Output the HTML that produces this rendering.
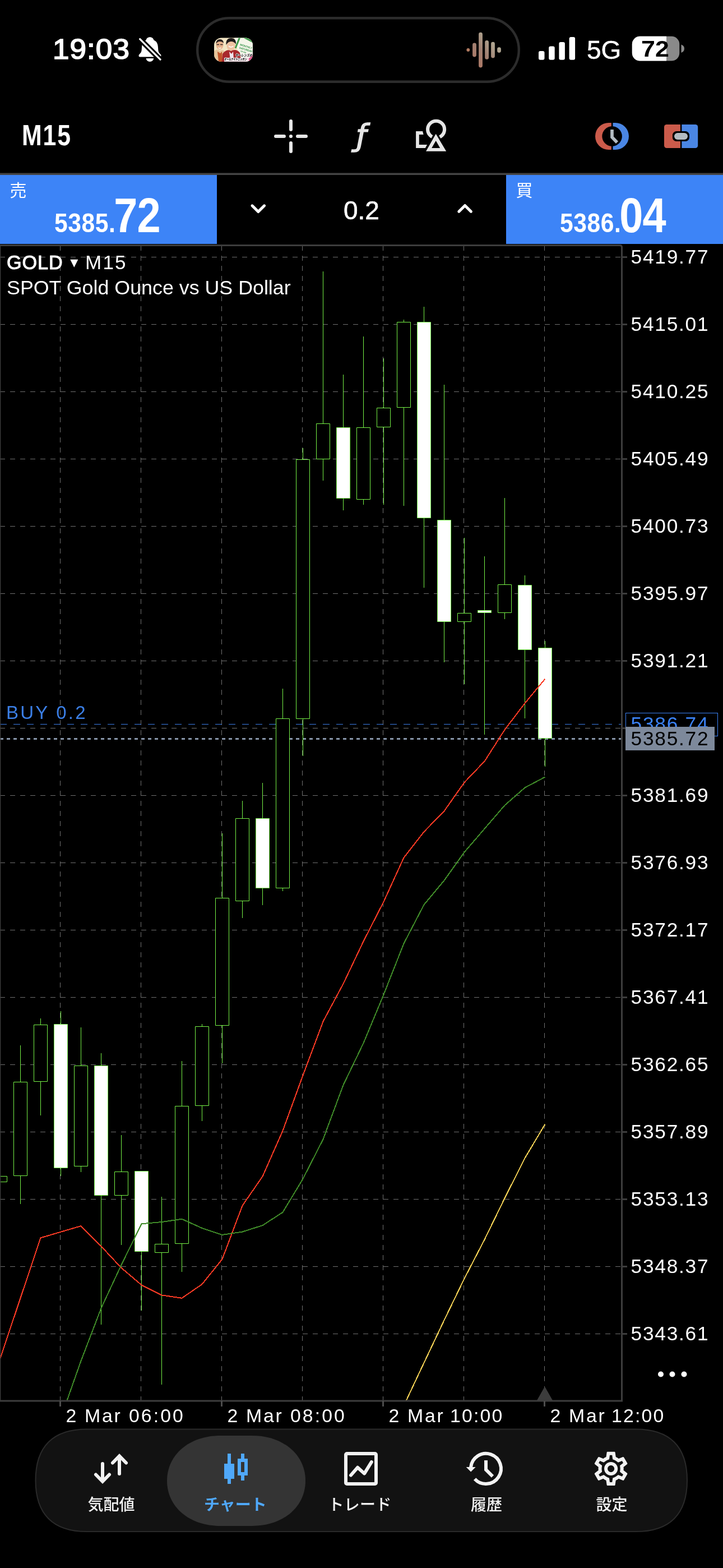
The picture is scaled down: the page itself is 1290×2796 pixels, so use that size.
<!DOCTYPE html>
<html lang="ja"><head><meta charset="utf-8"><title>GOLD M15</title>
<style>
html,body{margin:0;padding:0;background:#000}
body{width:1290px;height:2796px;position:relative;overflow:hidden;font-family:"Liberation Sans","Noto Sans CJK JP",sans-serif;color:#fff}
.t{position:absolute;white-space:nowrap;line-height:40px;margin:0}
svg{position:absolute;left:0;top:0;display:block}
.chart{z-index:1}
.t,.bx{z-index:2}
.pl{left:1125.5px;font-size:35.3px;letter-spacing:1.75px}
.tl{top:2504.3px;font-size:33.8px;letter-spacing:3.1px}
.tl .dm{letter-spacing:2.7px}
.tl .h1{margin-left:-3px;letter-spacing:2.2px}
#ct1{left:12px;top:448px;font-size:35px}
#ct1 b{font-weight:normal;font-size:34.2px;-webkit-text-stroke:1px #fff;letter-spacing:.9px}
#ct1 .tri{font-family:'DejaVu Sans','Noto Sans CJK JP',sans-serif;font-size:28px;margin:0 3px;position:relative;top:-3px}
#ct1c{letter-spacing:2.2px}
#ct2{left:12px;top:493px;font-size:35.8px}
#buyl{left:11px;top:1250.5px;font-size:33px;letter-spacing:3.2px;color:#3b7fe6}
.bx{position:absolute;box-sizing:border-box}
#bxbuy{left:1116px;top:1271px;width:165px;height:42px;border:1.5px solid #3b82f6}
#pbuy{top:1271px;color:#3b82f6}
#bxbid{left:1116px;top:1296px;width:159px;height:42px;background:#7d899b;z-index:5}
#pbid{top:1297px;color:#000;z-index:6}
.ui{z-index:3}
.t{z-index:4}
#time{left:94px;top:68px;font-size:50.5px;font-weight:normal;-webkit-text-stroke:1.7px #fff;letter-spacing:1px;transform:scaleX(1.05);transform-origin:0 0}
#net{left:1047px;top:69.3px;font-size:46px;-webkit-text-stroke:0.5px #fff}
#bat{left:1144px;top:66.5px;font-size:40px;font-weight:bold;color:#000;transform:scaleX(1.12);transform-origin:0 0}
#tf{left:38.8px;top:221.5px;font-size:51px;font-weight:bold;letter-spacing:2.2px;transform:scaleX(.84);transform-origin:0 0}
#fx{left:635.5px;top:207px;font-size:53.3px;line-height:70px;font-family:'DejaVu Sans',sans-serif;font-style:italic;color:#e6e6e6;-webkit-text-stroke:1.6px #e6e6e6}
.cj{font-size:30px;font-weight:400}
#sl{left:17.5px;top:319.5px}
#bl{left:920.5px;top:319.5px}
.prc{top:342px;line-height:84px;transform:scaleX(.87);transform-origin:0 0}
.pr{font-size:49px;font-weight:bold;letter-spacing:.6px}
.pr2{font-size:87px;font-weight:bold;letter-spacing:-1px;margin-left:-3.6px}
#sp{left:96.5px}
#bp{left:999.3px}
#vol{left:613px;top:354.5px;font-size:46px;-webkit-text-stroke:.6px #fff}
.tb{top:2664px;font-size:28px;font-weight:500;color:#f2f2f2}
#tb1{left:156.5px}
#tb2{left:364px;color:#4fa8fa;font-weight:bold}
#tb3{left:585.5px;letter-spacing:0.3px}
#tb4{left:840px}
#tb5{left:1063.5px}

</style></head>
<body>
<svg class="ui" width="1290" height="440" viewBox="0 0 1290 440">
<defs>
<linearGradient id="wv" gradientUnits="userSpaceOnUse" x1="838" y1="112" x2="890" y2="66"><stop offset="0" stop-color="#b07662"/><stop offset="0.45" stop-color="#a28172"/><stop offset="1" stop-color="#b8bca4"/></linearGradient>
<clipPath id="thc"><rect x="382" y="67.5" width="69" height="42.5" rx="13"/></clipPath>
</defs>
<!-- dynamic island -->
<rect x="352.200" y="32.200" width="573.600" height="113.600" rx="56.800" fill="#000" stroke="#2c2c2c" stroke-width="4.400"/>
<g clip-path="url(#thc)">
<rect x="382" y="67" width="70" height="44" fill="#f3e6c4"/>
<path d="M418 67h34v44h-22z" fill="#f4f6ea"/>
<path d="M420 86l8-20h22M436 67l16 8M449 103l4-4" stroke="#3f9a4a" stroke-width="3" fill="none"/>
<ellipse cx="392" cy="80" rx="6.5" ry="8.5" fill="#e9b48e"/>
<path d="M385.500 78q0-8 7-8q6 0 6.500 7q-3-3.500-7-3q-4 0-6.500 4z" fill="#2a2220"/>
<path d="M382 91q6-5 10 0q5-4 9 1l3 19h-22z" fill="#e6c49a"/>
<path d="M388 92l5 3l3-3l1 18h-7z" fill="#c2552a"/>
<ellipse cx="412" cy="81" rx="7.500" ry="9.500" fill="#efc3a2"/>
<path d="M403.500 80q-1-12 9-12q9 0 8.500 11q-4-5.500-9-5q-5 0-8.500 6z" fill="#1d1918"/>
<path d="M397 96q8-10 15-5q9-5 16 3l3 16h-35z" fill="#a8282c"/>
<path d="M409 92l4 4l3-4l1 14h-6z" fill="#efe6ee"/>
<path d="M400 103h52v7h-52z" fill="#f6dfe6"/>
<g font-family="Liberation Sans,Noto Sans CJK JP,sans-serif" font-weight="900" fill="#1c1618" stroke="#fff" stroke-width="1.2" paint-order="stroke" font-style="italic">
<text x="420" y="101" font-size="6.4" textLength="30" lengthAdjust="spacingAndGlyphs">ヤーレンズの</text>
<text x="400" y="107.5" font-size="6.4" textLength="40" lengthAdjust="spacingAndGlyphs">オールナイトニッポン</text>
</g>
<path d="M386.500 79.500h4.500M393 79.500h4.500" stroke="#3a2c28" stroke-width="1.300"/>
<path d="M408 82q4 4 8.500 0" stroke="#fff" stroke-width="1.400" fill="none"/>
<path d="M389.500 85q2.500 2.500 5 0" stroke="#fff" stroke-width="1.200" fill="none"/>
<path d="M444 104l8-6v12h-8z" fill="#e0508a"/>
<text transform="translate(428 81) rotate(17)" font-family="Liberation Sans,sans-serif" font-weight="bold" font-size="4.600" fill="#2f8f45">MONTHLY</text>
<text transform="translate(426.500 86.500) rotate(17)" font-family="Liberation Sans,sans-serif" font-weight="bold" font-size="4.600" fill="#2f8f45">SATURDAY</text>
<text transform="translate(429 92) rotate(17)" font-family="Liberation Sans,sans-serif" font-weight="bold" font-size="3" fill="#2f8f45">ON AIR</text>
</g>
<!-- waveform -->
<g stroke="url(#wv)" stroke-width="6.8" stroke-linecap="round" fill="none">
<path d="M846.5 79.900V98.100M857.500 61.100V117M868.600 75.400V102.400M879.500 78.200V100M890.500 87.600V90.600"/>
</g>
<circle cx="835.300" cy="89" r="2.900" fill="#b47c62"/>
<!-- signal -->
<g fill="#fff">
<rect x="961" y="91" width="10.500" height="15.700" rx="3"/>
<rect x="979.200" y="82.600" width="10.500" height="24.100" rx="3"/>
<rect x="997.400" y="75" width="10.500" height="31.700" rx="3"/>
<rect x="1015.600" y="66" width="10.500" height="40.700" rx="3"/>
</g>
<!-- battery -->
<rect x="1127.800" y="64.800" width="84.500" height="43.700" rx="14" fill="#8a8a8a"/>
<path d="M1141.800 64.800H1189V108.500H1141.800a14 14 0 0 1-14-14V78.800a14 14 0 0 1 14-14z" fill="#fff"/>
<path d="M1215.500 79.500q5.500 2 5.500 7.200q0 5.200-5.500 7.200z" fill="#8a8a8a"/>
<!-- bell -->
<g>
<path d="M267.400 66.200c4 0 6.300 2.300 7 5.200c5.600 2 7.500 7.500 7.700 14.500c0.100 5.500 1 7.500 3.500 10c1.500 1.500 1.900 2.500 1.900 3.300c0 1.500-1.200 2.300-2.800 2.300H250.300c-1.600 0-2.800-0.800-2.800-2.300c0-0.800 0.400-1.800 1.900-3.300c2.500-2.500 3.400-4.500 3.500-10c0.200-7 2.100-12.500 7.700-14.500c0.700-2.900 3-5.200 6.800-5.200z" fill="#fff"/>
<path d="M260.600 103.900h13.600a6.800 6 0 0 1-13.600 0z" fill="#fff"/>
<path d="M249.500 69.500L286.200 106.400" stroke="#000" stroke-width="9.400" stroke-linecap="butt"/>
<path d="M244 64L249.500 69.500" stroke="#000" stroke-width="9.400"/>
<path d="M249.700 69.700L286 106.200" stroke="#fff" stroke-width="3.300" stroke-linecap="round"/>
</g>
<!-- toolbar icons -->
<g stroke="#e6e6e6" stroke-width="6" stroke-linecap="round" fill="none">
<path d="M519 216V231M519 255V270M492 243H507M531 243H546"/>
</g>
<circle cx="519" cy="243" r="3.100" fill="#e6e6e6"/>
<!-- shapes -->
<path d="M742.100 234H754.100L755.600 240H747.800V258H762.100L758.900 264H742.100z" fill="#e6e6e6"/>
<circle cx="778.100" cy="230.800" r="15" fill="none" stroke="#e6e6e6" stroke-width="6.100"/>
<path d="M777.700 238.800L796.200 269.700H760z" fill="#000" stroke="#000" stroke-width="6.500" stroke-linejoin="miter"/>
<path d="M777.700 238.800L796.200 269.700H760zM777.700 251L770.200 263.900H785.200z" fill="#e6e6e6" fill-rule="evenodd"/>
<!-- clock icon -->
<path d="M1090.900 219H1086A24 24 0 0 0 1086 267H1090.900z" fill="#cb5b4b"/>
<path d="M1093.300 219H1098A24 24 0 0 1 1098 267H1093.300z" fill="#4a86e4"/>
<circle cx="1092.100" cy="243" r="17.800" fill="#000"/>
<path d="M1090.900 219V267h2.400V219z" fill="#000"/>
<path d="M1092 231.100V244.600L1101 254" stroke="#b4bcc2" stroke-width="5.700" fill="none"/>
<!-- one-click icon -->
<path d="M1189.500 222H1213.900V264H1189.500a4.500 4.500 0 0 1-4.500-4.500V226.500a4.500 4.500 0 0 1 4.500-4.500z" fill="#cb5b4b"/>
<path d="M1216.400 222H1240.700a4.500 4.500 0 0 1 4.500 4.500V259.500a4.500 4.500 0 0 1-4.500 4.500H1216.400z" fill="#4a86e4"/>
<rect x="1199.900" y="234.100" width="30.100" height="18" rx="7" fill="#000"/>
<rect x="1203" y="237" width="24" height="12.100" rx="6.050" fill="#b4bcc2"/>
<!-- separators & panel -->
<rect x="0" y="308.500" width="1290" height="3.500" fill="#444"/>
<rect x="0" y="312" width="387" height="123" fill="#3d84f7"/>
<rect x="903" y="312" width="387" height="123" fill="#3d84f7"/>
<g stroke="#fff" stroke-width="5" stroke-linecap="round" stroke-linejoin="round" fill="none">
<path d="M450 366.800L460.800 377.600L471.600 366.800"/>
<path d="M818.800 377.200L829.600 366.400L840.400 377.200"/>
</g>
</svg>
<div class="t" id="time">19:03</div>
<div class="t" id="net">5G</div>
<div class="t" id="bat">72</div>
<div class="t" id="tf">M15</div>
<div class="t" id="fx">&#402;</div>
<div class="t cj" id="sl">売</div>
<div class="t prc" id="sp"><span class="pr m" id="sp1">5385.</span><span class="pr2 m" id="sp2">72</span></div>
<div class="t" id="vol">0.2</div>
<div class="t cj" id="bl">買</div>
<div class="t prc" id="bp"><span class="pr m" id="bp1">5386.</span><span class="pr2 m" id="bp2">04</span></div>

<svg class="chart" width="1290" height="2796" viewBox="0 0 1290 2796">
<g stroke="#707070" stroke-width="1" stroke-dasharray="9 9" fill="none">
<path d="M0 458.5H1108M0 578.5H1108M0 698.5H1108M0 818.5H1108M0 938.5H1108M0 1058.5H1108M0 1178.5H1108M0 1298.5H1108M0 1418.5H1108M0 1538.5H1108M0 1658.5H1108M0 1778.5H1108M0 1898.5H1108M0 2018.5H1108M0 2138.5H1108M0 2258.5H1108M0 2378.5H1108M107.5 438V2498M251.5 438V2498M395.5 438V2498M539.5 438V2498M683.5 438V2498M827.5 438V2498M971.5 438V2498"/></g>
<path d="M0 1291.5H1108" stroke="#3a7ce6" stroke-width="1" stroke-dasharray="12 12" fill="none"/>
<path d="M0 1317.5H1108" stroke="#8795a9" stroke-width="3" stroke-dasharray="6 6" fill="none"/>
<g stroke="#76f246" stroke-width="1">
<path d="M36.5 1864V2147M72.5 1816V1989M108.5 1803V2097M144.5 1832V2090M180.5 1878V2362M216.5 2024V2220M252.5 2088V2337M288.5 2134V2469M324.5 1892V2268M360.5 1826V1999M396.5 1486V1896M432.5 1428V1637M468.5 1396V1614M504.5 1228V1589M540.5 799V1348M576.5 484V857M612.5 668V910M648.5 600V900M684.5 639V900M720.5 570V902M756.5 547V1048M792.5 686V1181M828.5 959V1220M864.5 992V1310M900.5 888V1104M936.5 1026V1281M972.5 1143V1367" fill="none"/>
<path d="M-11.5 2097.5h24V2107.5h-24zM24.5 1929.5h24V2096.5h-24zM60.5 1827.5h24V1928.5h-24zM132.5 1900.5h24V2079.5h-24zM204.5 2089.5h24V2131.5h-24zM276.5 2218.5h24V2233.5h-24zM312.5 1972.5h24V2217.5h-24zM348.5 1830.5h24V1971.5h-24zM384.5 1601.5h24V1828.5h-24zM420.5 1459.5h24V1606.5h-24zM492.5 1281.5h24V1583.5h-24zM528.5 819.5h24V1281.5h-24zM564.5 755.5h24V818.5h-24zM636.5 762.5h24V890.5h-24zM672.5 727.5h24V761.5h-24zM708.5 574.5h24V726.5h-24zM816.5 1093.5h24V1108.5h-24zM888.5 1042.5h24V1092.5h-24z" fill="#000"/>
<path d="M96.5 1826.5h24V2082.5h-24zM168.5 1900.5h24V2131.5h-24zM240.5 2088.5h24V2231.5h-24zM456.5 1459.5h24V1583.5h-24zM600.5 762.5h24V888.5h-24zM744.5 574.5h24V923.5h-24zM780.5 927.5h24V1108.5h-24zM852.5 1088.5h24V1092.5h-24zM924.5 1043.5h24V1158.5h-24zM960.5 1155.5h24V1316.5h-24z" fill="#fff"/>
</g>
<polyline points="0,2423.4 72.5,2207.3 144.5,2186.1 180.5,2222.3 216.5,2260.8 252.5,2291.4 288.5,2309.4 324.5,2314.8 360.5,2290 396.5,2245.3 432.5,2149.8 468.5,2097.7 504.5,2016.3 540.5,1917.5 576.5,1821.4 612.5,1754.2 648.5,1678.5 684.5,1608 720.5,1529.3 756.5,1483.2 792.5,1446.3 828.5,1395.2 864.5,1357.5 900.5,1301.3 936.5,1254 972.5,1210.6" fill="none" stroke="#fb3a24" stroke-width="2" stroke-linejoin="round" shape-rendering="crispEdges"/>
<polyline points="119.4,2497.8 144.5,2426.7 180.5,2332.7 216.5,2255.6 252.5,2182.3 288.5,2179 324.5,2173.7 360.5,2190 396.5,2201.9 432.5,2196.5 468.5,2185 504.5,2161.7 540.5,2102 576.5,2031.5 612.5,1934.8 648.5,1860 684.5,1773.6 720.5,1682.4 756.5,1613.2 792.5,1570 828.5,1519.6 864.5,1477.8 900.5,1436 936.5,1404.5 972.5,1385.5" fill="none" stroke="#3f8a28" stroke-width="2" stroke-linejoin="round" shape-rendering="crispEdges"/>
<polyline points="724.5,2498 756.5,2430.1 792.5,2354.2 828.5,2279.9 864.5,2210.4 900.5,2136.6 936.5,2065.1 972.5,2004.7" fill="none" stroke="#f2cf55" stroke-width="2" stroke-linejoin="round" shape-rendering="crispEdges"/>
<path d="M957.500 2498L970.800 2474.500Q972 2472.300 973.200 2474.500L986.500 2498z" fill="#3c3c3c"/>
<path d="M0 437.5H1106Q1109.5 437.5 1109.5 441V2498H0" fill="none" stroke="#3d3d3d" stroke-width="3"/>
<path d="M0.500 437V2498" fill="none" stroke="#3d3d3d" stroke-width="1.500"/>
<path d="M1110 458.5H1119M1110 578.5H1119M1110 698.5H1119M1110 818.5H1119M1110 938.5H1119M1110 1058.5H1119M1110 1178.5H1119M1110 1298.5H1119M1110 1418.5H1119M1110 1538.5H1119M1110 1658.5H1119M1110 1778.5H1119M1110 1898.5H1119M1110 2018.5H1119M1110 2138.5H1119M1110 2258.5H1119M1110 2378.5H1119" stroke="#3d3d3d" stroke-width="3"/>
<path d="M107.5 2498V2508M395.5 2498V2508M683.5 2498V2508M971.5 2498V2508" stroke="#4c4c4c" stroke-width="3"/>
<g fill="#fff"><circle cx="1179" cy="2450.5" r="5"/><circle cx="1199.5" cy="2450.5" r="5"/><circle cx="1220.5" cy="2450.5" r="5"/></g>
</svg>
<div class="t" id="ct1"><b class="m" id="ct1a">GOLD</b> <span class="tri m" id="ct1b">&#9662;</span> <span class="m" id="ct1c">M15</span></div>
<div class="t" id="ct2">SPOT Gold Ounce vs US Dollar</div>
<div class="t" id="buyl">BUY 0.2</div>
<div class="t pl" id="p0" style="top:438.3px">5419.77</div>
<div class="t pl" id="p1" style="top:558.3px">5415.01</div>
<div class="t pl" id="p2" style="top:678.3px">5410.25</div>
<div class="t pl" id="p3" style="top:798.3px">5405.49</div>
<div class="t pl" id="p4" style="top:918.3px">5400.73</div>
<div class="t pl" id="p5" style="top:1038.3px">5395.97</div>
<div class="t pl" id="p6" style="top:1158.3px">5391.21</div>
<div class="t pl" id="p8" style="top:1398.3px">5381.69</div>
<div class="t pl" id="p9" style="top:1518.3px">5376.93</div>
<div class="t pl" id="p10" style="top:1638.3px">5372.17</div>
<div class="t pl" id="p11" style="top:1758.3px">5367.41</div>
<div class="t pl" id="p12" style="top:1878.3px">5362.65</div>
<div class="t pl" id="p13" style="top:1998.3px">5357.89</div>
<div class="t pl" id="p14" style="top:2118.3px">5353.13</div>
<div class="t pl" id="p15" style="top:2238.3px">5348.37</div>
<div class="t pl" id="p16" style="top:2358.3px">5343.61</div>
<div class="bx" id="bxbuy"></div><div class="t pl" id="pbuy">5386.74</div>
<div class="bx" id="bxbid"></div><div class="t pl" id="pbid">5385.72</div>
<div class="t tl" id="t0" style="left:117.5px"><span class="dm">2 Mar</span> <span class="hm">06:00</span></div>
<div class="t tl" id="t1" style="left:405.5px"><span class="dm">2 Mar</span> <span class="hm">08:00</span></div>
<div class="t tl" id="t2" style="left:693.5px"><span class="dm">2 Mar</span> <span class="hm h1">10:00</span></div>
<div class="t tl" id="t3" style="left:981.5px"><span class="dm">2 Mar</span> <span class="hm h1">12:00</span></div>
<svg class="ui" style="top:2540px" width="1290" height="256" viewBox="0 2540 1290 256">
<path d="M154.75 2548.5H1134.75C1194.97 2548.5 1226 2579.53 1226 2639.75C1226 2699.97 1194.97 2731 1134.75 2731H154.75C94.53 2731 63.5 2699.97 63.5 2639.75C63.5 2579.53 94.53 2548.5 154.75 2548.5z" fill="#121212" stroke="#2a2a2a" stroke-width="2"/>
<path d="M393 2560H450C505.1 2560 545 2593.81 545 2640.5C545 2687.19 505.1 2721 450 2721H393C337.9 2721 298 2687.19 298 2640.5C298 2593.81 337.9 2560 393 2560z" fill="#343434"/>
<!-- quotes arrows -->
<g stroke="#f2f2f2" stroke-width="6" stroke-linecap="round" stroke-linejoin="miter" fill="none">
<path d="M183 2610V2641"/><path d="M171 2629.500L183 2641.800L195 2629.500"/>
<path d="M213 2628V2597"/><path d="M201 2608.500L213 2596.200L225 2608.500"/>
</g>
<!-- chart icon -->
<path d="M406 2592h6v18h6v27h-6v9h-6v-9h-6v-27h6zM430 2592h6v9h6v30h-6v9h-6v-9h-6v-30h6zM430 2607v18h6v-18z" fill="#4fa8fa" fill-rule="evenodd"/>
<!-- trade icon -->
<path d="M619 2589H669a5 5 0 0 1 5 5V2644a5 5 0 0 1-5 5H619a5 5 0 0 1-5-5V2594a5 5 0 0 1 5-5zM620 2595V2643H668V2595z" fill="#f2f2f2" fill-rule="evenodd"/>
<path d="M626 2630.600L638.100 2616.700L650.100 2627.600L662.800 2607" stroke="#f2f2f2" stroke-width="6" stroke-linecap="round" stroke-linejoin="round" fill="none"/>
<!-- history icon -->
<path d="M840.040 2616.600A27 27 0 1 1 847.060 2637.200" stroke="#f2f2f2" stroke-width="6" fill="none"/>
<path d="M831.700 2616.100H848.700L840.100 2624.500z" fill="#f2f2f2"/>
<path d="M867 2604V2620.700L879 2632.700" stroke="#f2f2f2" stroke-width="6" fill="none"/>
<!-- settings icon -->
<g transform="translate(1054 2582.800) scale(3.010)">
<path fill="#f2f2f2" d="M19.430 12.980c.04-.32.07-.64.07-.98 0-.34-.03-.66-.07-.98l2.110-1.650c.19-.15.240-.42.120-.64l-2-3.460c-.09-.16-.26-.25-.44-.25-.06 0-.12.010-.17.030l-2.490 1c-.52-.4-1.080-.73-1.690-.98l-.38-2.650C14.460 2.180 14.250 2 14 2h-4c-.25 0-.46.180-.49.420l-.38 2.650c-.61.250-1.170.59-1.690.98l-2.490-1c-.06-.02-.12-.03-.18-.03-.17 0-.34.090-.43.250l-2 3.460c-.13.220-.07.490.12.640l2.110 1.650c-.04.320-.07.650-.07.980 0 .33.030.66.070.98l-2.110 1.650c-.19.150-.24.420-.12.640l2 3.460c.09.160.26.250.44.250.06 0 .12-.01.170-.03l2.490-1c.52.400 1.080.73 1.690.98l.38 2.650c.03.240.24.420.49.420h4c.25 0 .46-.18.490-.42l.38-2.650c.61-.25 1.170-.59 1.690-.98l2.490 1c.06.020.12.030.18.030.17 0 .34-.09.430-.25l2-3.460c.12-.22.070-.49-.12-.64l-2.110-1.650zm-1.980-1.710c.04.310.05.520.05.730 0 .21-.02.430-.05.730l-.14 1.130.89.700 1.080.84-.7 1.210-1.270-.51-1.040-.42-.9.680c-.43.320-.84.560-1.250.73l-1.060.43-.16 1.130-.2 1.350h-1.400l-.19-1.350-.16-1.130-1.060-.43c-.43-.18-.83-.41-1.230-.71l-.91-.7-1.060.43-1.270.51-.7-1.210 1.080-.84.890-.7-.14-1.130c-.03-.31-.05-.54-.05-.74s.02-.43.050-.73l.14-1.130-.89-.7-1.080-.84.700-1.210 1.270.51 1.040.42.900-.68c.43-.32.840-.56 1.250-.73l1.060-.43.160-1.130.2-1.350h1.390l.19 1.350.16 1.130 1.060.43c.43.180.83.410 1.230.71l.91.700 1.060-.43 1.270-.51.700 1.210-1.070.85-.89.700.14 1.130zM12 8c-2.210 0-4 1.790-4 4s1.790 4 4 4 4-1.790 4-4-1.790-4-4-4zm0 6c-1.100 0-2-.9-2-2s.9-2 2-2 2 .9 2 2-.9 2-2 2z"/>
</g>
</svg>
<div class="t tb" id="tb1">気配値</div>
<div class="t tb" id="tb2">チャート</div>
<div class="t tb" id="tb3">トレード</div>
<div class="t tb" id="tb4">履歴</div>
<div class="t tb" id="tb5">設定</div>

</body></html>
